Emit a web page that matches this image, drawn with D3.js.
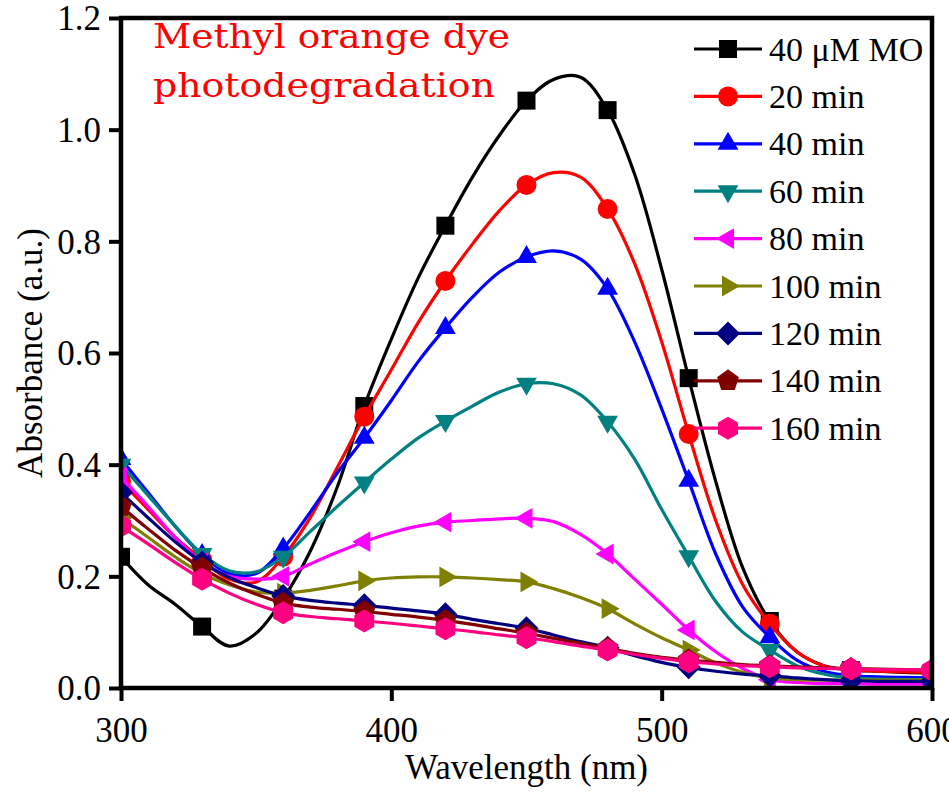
<!DOCTYPE html>
<html>
<head>
<meta charset="utf-8">
<script src="https://cdn.jsdelivr.net/npm/d3@7"></script>
<style>
  body { margin: 0; background: #fff; }
  svg { display: block; }
</style>
</head>
<body>
<div id="vis-1"></div>
<script>
// main.js
const SVG1 = d3.select("#vis-1").append("svg"); // UV-vis spectra

const WIDTH_VIS_1 = 949;
const HEIGHT_VIS_1 = 796;
const MARGIN = { top: 18, right: 17, bottom: 108, left: 121 };

SVG1.attr("width", WIDTH_VIS_1).attr("height", HEIGHT_VIS_1);

// Data (wavelength in nm, absorbance in a.u.)
const wavelengths = [300, 310, 320, 330, 340, 350, 360, 370, 380, 390, 400, 410, 420, 430, 440,
  450, 460, 470, 480, 490, 500, 510, 520, 530, 540, 550, 560, 570, 580, 590, 600];
const markerWavelengths = [300, 330, 360, 390, 420, 450, 480, 510, 540, 570, 600];

const seriesNames = ["40 μM MO", "20 min", "40 min", "60 min", "80 min", "100 min", "120 min", "140 min", "160 min"];
const seriesColors = ["#000000", "#ff0000", "#0000ff", "#008080", "#ff00ff", "#808000", "#000080", "#800000", "#ff0080"];
const seriesShapes = ["square", "circle", "up", "down", "left", "right", "diamond", "pentagon", "hexagon"];

const mo0 = [0.235, 0.185, 0.150, 0.110, 0.075, 0.098, 0.160, 0.245, 0.360, 0.505, 0.625, 0.735, 0.828, 0.915, 0.990,
  1.052, 1.090, 1.094, 1.035, 0.920, 0.750, 0.555, 0.370, 0.215, 0.120, 0.065, 0.040, 0.032, 0.030, 0.028, 0.027];
const min20 = [0.370, 0.320, 0.270, 0.230, 0.195, 0.190, 0.235, 0.305, 0.395, 0.486, 0.570, 0.655, 0.729, 0.795, 0.855,
  0.901, 0.923, 0.915, 0.858, 0.760, 0.620, 0.455, 0.300, 0.185, 0.115, 0.065, 0.040, 0.033, 0.030, 0.029, 0.028];
const min40 = [0.410, 0.350, 0.290, 0.238, 0.205, 0.205, 0.250, 0.315, 0.385, 0.448, 0.515, 0.585, 0.645, 0.700, 0.745,
  0.772, 0.783, 0.768, 0.715, 0.620, 0.500, 0.371, 0.240, 0.145, 0.091, 0.050, 0.030, 0.022, 0.020, 0.019, 0.018];
const min60 = [0.400, 0.345, 0.290, 0.240, 0.210, 0.208, 0.235, 0.280, 0.325, 0.368, 0.410, 0.448, 0.478, 0.505, 0.530,
  0.545, 0.545, 0.525, 0.477, 0.410, 0.320, 0.236, 0.155, 0.100, 0.068, 0.040, 0.025, 0.018, 0.016, 0.015, 0.015];
const min80 = [0.378, 0.325, 0.270, 0.225, 0.200, 0.195, 0.200, 0.222, 0.243, 0.262, 0.278, 0.290, 0.297, 0.300, 0.303,
  0.304, 0.298, 0.275, 0.240, 0.195, 0.150, 0.104, 0.065, 0.035, 0.015, 0.010, 0.008, 0.008, 0.007, 0.007, 0.007];
const min100 = [0.305, 0.270, 0.235, 0.205, 0.185, 0.172, 0.170, 0.175, 0.183, 0.192, 0.197, 0.199, 0.199, 0.197, 0.194,
  0.190, 0.178, 0.162, 0.142, 0.115, 0.090, 0.068, 0.045, 0.028, 0.018, 0.015, 0.014, 0.014, 0.014, 0.014, 0.014];
const min120 = [0.350, 0.305, 0.262, 0.225, 0.198, 0.180, 0.165, 0.157, 0.152, 0.148, 0.143, 0.138, 0.132, 0.123, 0.115,
  0.107, 0.095, 0.083, 0.072, 0.058, 0.046, 0.037, 0.030, 0.025, 0.022, 0.018, 0.015, 0.013, 0.012, 0.012, 0.012];
const min140 = [0.325, 0.285, 0.247, 0.215, 0.188, 0.168, 0.152, 0.145, 0.141, 0.137, 0.132, 0.127, 0.121, 0.114, 0.106,
  0.098, 0.089, 0.080, 0.071, 0.062, 0.055, 0.050, 0.046, 0.042, 0.040, 0.038, 0.036, 0.035, 0.034, 0.033, 0.032];
const min160 = [0.290, 0.258, 0.225, 0.195, 0.170, 0.150, 0.135, 0.128, 0.124, 0.120, 0.116, 0.111, 0.106, 0.101, 0.095,
  0.090, 0.083, 0.075, 0.068, 0.060, 0.053, 0.047, 0.043, 0.040, 0.038, 0.036, 0.035, 0.034, 0.033, 0.033, 0.032];

const seriesValues = [mo0, min20, min40, min60, min80, min100, min120, min140, min160];

const xTicks = [300, 400, 500, 600];
const yTicks = [0.0, 0.2, 0.4, 0.6, 0.8, 1.0, 1.2];

createSpectraChart();

// polygon path around (0,0) — n corners, first corner at angle a0 (degrees)
function polygonPath(n, r, a0) {
  const pts = [];
  for (let i = 0; i < n; i++) {
    const a = (a0 + i * 360 / n) * Math.PI / 180;
    pts.push([r * Math.cos(a), r * Math.sin(a)]);
  }
  return "M" + pts.map(p => p[0].toFixed(2) + "," + p[1].toFixed(2)).join("L") + "Z";
}

function markerPath(shape) {
  switch (shape) {
    case "square": return "M-9,-9L9,-9L9,9L-9,9Z";
    case "circle": return d3.symbol().type(d3.symbolCircle).size(Math.PI * 100)();
    case "up": return polygonPath(3, 12, -90);
    case "down": return polygonPath(3, 12, 90);
    case "left": return polygonPath(3, 12, 180);
    case "right": return polygonPath(3, 12, 0);
    case "diamond": return polygonPath(4, 12, -90);
    case "pentagon": return polygonPath(5, 11.5, -90);
    case "hexagon": return polygonPath(6, 11.5, -90);
  }
}

function createSpectraChart() {
  const innerW = WIDTH_VIS_1 - MARGIN.left - MARGIN.right;
  const innerH = HEIGHT_VIS_1 - MARGIN.top - MARGIN.bottom;

  const x = d3.scaleLinear().domain([300, 600]).range([MARGIN.left, MARGIN.left + innerW]);
  const y = d3.scaleLinear().domain([0, 1.2]).range([MARGIN.top + innerH, MARGIN.top]);

  SVG1.append("defs").append("clipPath").attr("id", "plot-clip")
    .append("rect")
    .attr("x", MARGIN.left).attr("y", MARGIN.top)
    .attr("width", innerW).attr("height", innerH);

  const line = d3.line()
    .x((d, i) => x(wavelengths[i]))
    .y(d => y(d))
    .curve(d3.curveCatmullRom.alpha(0.5));

  const plot = SVG1.append("g").attr("clip-path", "url(#plot-clip)");

  // one group per series: line first, then markers on top
  seriesValues.forEach((vals, s) => {
    const g = plot.append("g");
    g.append("path")
      .attr("d", line(vals))
      .attr("fill", "none")
      .attr("stroke", seriesColors[s])
      .attr("stroke-width", 3.2)
      .attr("stroke-linejoin", "round");

    const pts = wavelengths
      .map((w, i) => ({ w: w, v: vals[i] }))
      .filter(d => markerWavelengths.includes(d.w));

    g.selectAll("path.mk")
      .data(pts)
      .enter()
      .append("path")
      .attr("class", "mk")
      .attr("d", markerPath(seriesShapes[s]))
      .attr("transform", d => `translate(${x(d.w)},${y(d.v)})`)
      .attr("fill", seriesColors[s]);
  });

  // Axes
  const xAxis = SVG1.append("g")
    .attr("transform", `translate(0,${MARGIN.top + innerH})`)
    .call(d3.axisBottom(x).tickValues(xTicks).tickFormat(d3.format("d")).tickSize(13).tickPadding(8));
  const yAxis = SVG1.append("g")
    .attr("transform", `translate(${MARGIN.left},0)`)
    .call(d3.axisLeft(y).tickValues(yTicks).tickFormat(d3.format(".1f")).tickSize(12).tickPadding(8));

  [xAxis, yAxis].forEach(ax => {
    ax.select(".domain").remove();
    ax.selectAll(".tick line").attr("stroke", "#000").attr("stroke-width", 4);
    ax.selectAll(".tick text")
      .attr("fill", "#000")
      .style("font-family", "'Liberation Serif', 'Times New Roman', serif")
      .style("font-size", "35px");
  });
  yAxis.selectAll(".tick text").attr("dy", "0.34em");
  xAxis.selectAll(".tick text").attr("dy", "0.95em");

  // Frame
  SVG1.append("rect")
    .attr("x", MARGIN.left).attr("y", MARGIN.top)
    .attr("width", innerW).attr("height", innerH)
    .attr("fill", "none")
    .attr("stroke", "#000")
    .attr("stroke-width", 4.5);

  // Axis titles
  SVG1.append("text")
    .attr("x", MARGIN.left + innerW / 2)
    .attr("y", 779)
    .attr("text-anchor", "middle")
    .style("font-family", "'Liberation Serif', 'Times New Roman', serif")
    .style("font-size", "35px")
    .text("Wavelength (nm)");

  SVG1.append("text")
    .attr("transform", `translate(42,${MARGIN.top + innerH / 2}) rotate(-90)`)
    .attr("text-anchor", "middle")
    .style("font-family", "'Liberation Serif', 'Times New Roman', serif")
    .style("font-size", "35px")
    .text("Absorbance (a.u.)");

  // Red annotation
  const note = SVG1.append("text")
    .attr("fill", "#ff0000")
    .style("font-family", "'DejaVu Serif', serif")
    .style("font-size", "33px");
  note.append("tspan").attr("x", 153).attr("y", 48)
    .attr("textLength", 357).attr("lengthAdjust", "spacingAndGlyphs")
    .text("Methyl orange dye");
  note.append("tspan").attr("x", 153).attr("y", 97)
    .attr("textLength", 342).attr("lengthAdjust", "spacingAndGlyphs")
    .text("photodegradation");

  // Legend
  const legend = SVG1.append("g");
  seriesNames.forEach((name, s) => {
    const ly = 49 + s * 47.4;
    const row = legend.append("g").attr("transform", `translate(0,${ly})`);
    row.append("line")
      .attr("x1", 694).attr("x2", 762)
      .attr("stroke", seriesColors[s])
      .attr("stroke-width", 3.2);
    row.append("path")
      .attr("d", markerPath(seriesShapes[s]))
      .attr("transform", "translate(728,0)")
      .attr("fill", seriesColors[s]);
    row.append("text")
      .attr("x", 769)
      .attr("dy", "0.34em")
      .style("font-family", "'Liberation Serif', 'Times New Roman', serif")
      .style("font-size", "34px")
      .text(name);
  });
}
</script>
</body>
</html>
